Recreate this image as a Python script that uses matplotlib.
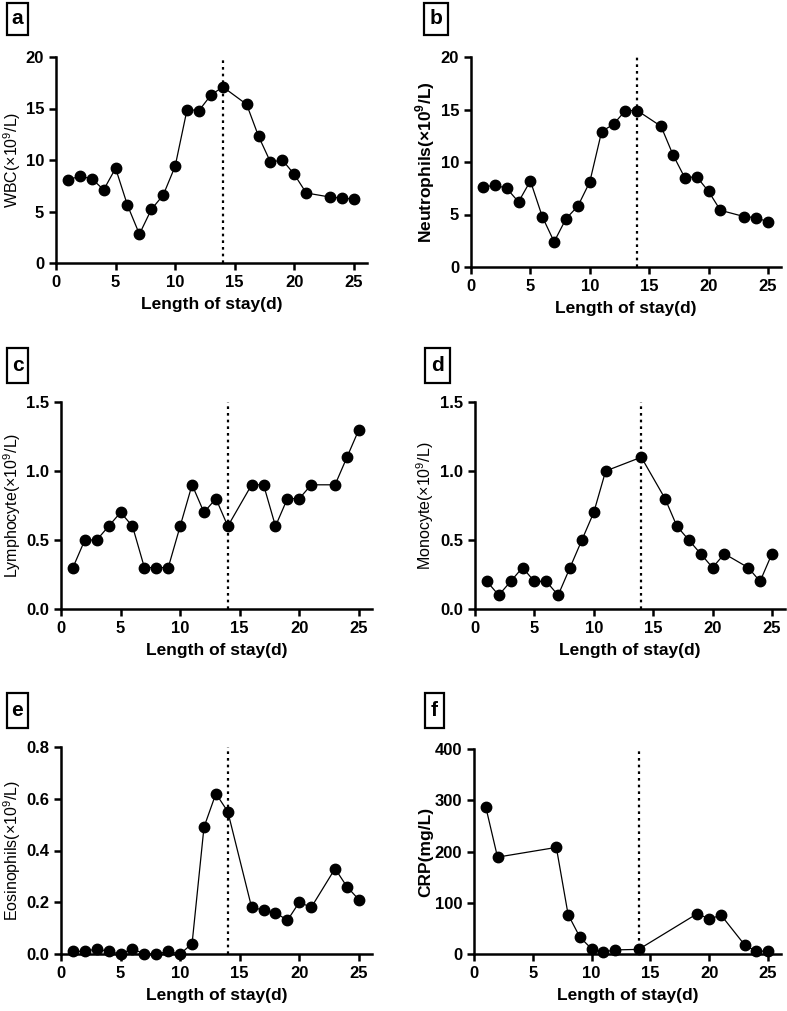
import matplotlib
matplotlib.use("Agg")
import matplotlib.pyplot as plt
from matplotlib.patches import Rectangle

plt.rcParams['font.family'] = ['Liberation Sans', 'DejaVu Sans']
plt.rcParams['mathtext.fontset'] = 'custom'
plt.rcParams['mathtext.rm'] = 'Liberation Sans'
plt.rcParams['mathtext.bf'] = 'Liberation Sans:bold'

# ---- data ----
wbc_days = [1, 2, 3, 4, 5, 6, 7, 8, 9, 10, 11, 12, 13, 14, 16, 17, 18, 19, 20, 21, 23, 24, 25]
wbc_vals = [8.1, 8.4, 8.2, 7.1, 9.2, 5.6, 2.8, 5.2, 6.6, 9.4, 14.9, 14.8, 16.3, 17.1,
            15.4, 12.3, 9.8, 10.0, 8.6, 6.8, 6.4, 6.3, 6.2]

neu_days = [1, 2, 3, 4, 5, 6, 7, 8, 9, 10, 11, 12, 13, 14, 16, 17, 18, 19, 20, 21, 23, 24, 25]
neu_vals = [7.6, 7.8, 7.5, 6.2, 8.2, 4.8, 2.4, 4.6, 5.8, 8.1, 12.9, 13.6, 14.9, 14.9,
            13.4, 10.7, 8.5, 8.6, 7.2, 5.4, 4.8, 4.7, 4.3]

lym_days = [1, 2, 3, 4, 5, 6, 7, 8, 9, 10, 11, 12, 13, 14, 16, 17, 18, 19, 20, 21, 23, 24, 25]
lym_vals = [0.3, 0.5, 0.5, 0.6, 0.7, 0.6, 0.3, 0.3, 0.3, 0.6, 0.9, 0.7, 0.8, 0.6,
            0.9, 0.9, 0.6, 0.8, 0.8, 0.9, 0.9, 1.1, 1.3]

mon_days = [1, 2, 3, 4, 5, 6, 7, 8, 9, 10, 11, 14, 16, 17, 18, 19, 20, 21, 23, 24, 25]
mon_vals = [0.2, 0.1, 0.2, 0.3, 0.2, 0.2, 0.1, 0.3, 0.5, 0.7, 1.0, 1.1,
            0.8, 0.6, 0.5, 0.4, 0.3, 0.4, 0.3, 0.2, 0.4]

eos_days = [1, 2, 3, 4, 5, 6, 7, 8, 9, 10, 11, 12, 13, 14, 16, 17, 18, 19, 20, 21, 23, 24, 25]
eos_vals = [0.01, 0.01, 0.02, 0.01, 0.0, 0.02, 0.0, 0.0, 0.01, 0.0, 0.04, 0.49, 0.62, 0.55,
            0.18, 0.17, 0.16, 0.13, 0.20, 0.18, 0.33, 0.26, 0.21]

crp_days = [1, 2, 7, 8, 9, 10, 11, 12, 14, 19, 20, 21, 23, 24, 25]
crp_vals = [287, 189, 208, 77, 33, 10, 4, 8, 9, 79, 68, 76, 18, 5, 6]

x_ticks = [0, 5, 10, 15, 20, 25]
x_label = "Length of stay(d)"
marker_day = 14

W, H = 787, 1011
fig = plt.figure(figsize=(W / 100, H / 100), dpi=100)

panels = [
    ("a", wbc_days, wbc_vals, r"WBC(×10$^{\mathrm{9}}$/L)", [0, 5, 10, 15, 20], None, False,
     (56, 367, 57, 263), (7, 3, 28, 35), 23),
    ("b", neu_days, neu_vals, r"Neutrophils(×10$^{\mathbf{9}}$/L)", [0, 5, 10, 15, 20], None, True,
     (471, 781, 57, 267), (424, 3, 448, 35), 437),
    ("c", lym_days, lym_vals, r"Lymphocyte(×10$^{\mathrm{9}}$/L)", [0, 0.5, 1.0, 1.5],
     ["0.0", "0.5", "1.0", "1.5"], False, (61, 372, 402, 609), (7, 348, 28, 383), 23),
    ("d", mon_days, mon_vals, r"Monocyte(×10$^{\mathrm{9}}$/L)", [0, 0.5, 1.0, 1.5],
     ["0.0", "0.5", "1.0", "1.5"], False, (475, 785, 402, 609), (425, 348, 450, 383), 436),
    ("e", eos_days, eos_vals, r"Eosinophils(×10$^{\mathrm{9}}$/L)", [0, 0.2, 0.4, 0.6, 0.8],
     ["0.0", "0.2", "0.4", "0.6", "0.8"], False, (61, 372, 747, 954), (7, 693, 28, 728), 23),
    ("f", crp_days, crp_vals, "CRP(mg/L)", [0, 100, 200, 300, 400], None, True,
     (474, 781, 749, 954), (425, 693, 444, 728), 433),
]

for letter, days, vals, ylab, yticks, ytl, ybold, (l, r, t, b), (bx0, by0, bx1, by1), ylx in panels:
    ax = fig.add_axes([l / W, 1 - b / H, (r - l) / W, (b - t) / H])
    ymax = yticks[-1]
    ax.axvline(marker_day, ymin=0, ymax=1, color="black", linestyle=(0, (1.2, 1.8)),
               linewidth=1.6, zorder=1)
    ax.plot(days, vals, color="black", linewidth=0.9, marker="o", markersize=7.5,
            markerfacecolor="black", markeredgecolor="black", zorder=3, clip_on=False)
    ax.set_xlim(0, 26.1)
    ax.set_ylim(0, ymax)
    ax.set_xticks(x_ticks)
    ax.set_yticks(yticks)
    if ytl is not None:
        ax.set_yticklabels(ytl)
    for s in ("top", "right"):
        ax.spines[s].set_visible(False)
    for s in ("left", "bottom"):
        ax.spines[s].set_linewidth(1.8)
    ax.tick_params(axis="both", which="major", length=5, width=1.8, labelsize=12, pad=3.5)
    for lab in ax.get_xticklabels() + ax.get_yticklabels():
        lab.set_fontweight("bold")
    ax.set_xlabel(x_label, fontsize=12.5, fontweight="bold", labelpad=5)
    ax.set_ylabel(ylab, fontsize=12.5 if ybold else 11.5,
                  fontweight="bold" if ybold else "normal")
    ax.yaxis.set_label_coords((ylx - l) / (r - l), 0.5)
    rect = Rectangle((bx0 / W, 1 - by1 / H), (bx1 - bx0) / W, (by1 - by0) / H,
                     transform=fig.transFigure, fill=True, facecolor="white",
                     edgecolor="black", linewidth=1.6)
    fig.add_artist(rect)
    fig.text((bx0 + bx1) / 2 / W, 1 - (by0 + by1) / 2 / H, letter, ha="center", va="center",
             fontsize=15, fontweight="bold")

fig.savefig("out.png", dpi=100)
